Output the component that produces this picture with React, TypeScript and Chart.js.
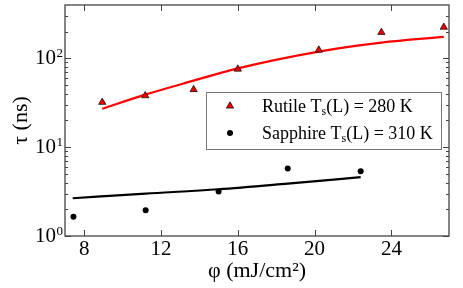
import React, { useEffect, useRef } from "react";
import { Chart, registerables } from "chart.js";

Chart.register(...registerables);

// ---- data ----
const rutileX = [8.94, 11.18, 13.7, 16.0, 20.22, 23.48, 26.73];
const rutileTau = [32, 38, 44.5, 75.7, 124, 196, 224];
const rutileFitX = [8.94, 11.18, 13.7, 16.0, 20.22, 23.48, 26.73];
const rutileFitTau = [27, 39, 56, 77, 119, 150, 174];
const sapphireX = [7.44, 11.2, 15.0, 18.6, 22.4];
const sapphireTau = [1.65, 1.95, 3.16, 5.74, 5.36];
const sapphireFitX = [7.4, 11.2, 15.0, 18.6, 22.4];
const sapphireFitTau = [2.66, 3.0, 3.36, 3.89, 4.59];
const xTicks = [8, 12, 16, 20, 24];
const yTicks = [1, 10, 100];
const yTickBase = "10";
const yTickExponents = ["0", "1", "2"];
const minorMultipliers = [2, 3, 4, 5, 6, 7, 8, 9];
const xRange = [7, 27];
const yRange = [1, 398];
const legendNames = ["Rutile", "Sapphire"];
const legendTemps = ["280 K", "310 K"];

const SERIF = "'Liberation Serif'";
const RED = "#ee0000";
const TICK_SIZE = 21;
const Y_TICK_PAD = 9;

const pts = (xs: number[], ys: number[]) => xs.map((x, i) => ({ x, y: ys[i] }));

const axisTicksPlugin = {
  id: "axisTicks",
  afterDatasetsDraw(chart: any) {
    const { ctx, chartArea: a, scales } = chart;
    const xs = scales.x;
    const ys = scales.y;
    ctx.save();
    ctx.strokeStyle = "#444";
    ctx.lineWidth = 1;
    ctx.beginPath();
    xTicks.forEach((v) => {
      const px = Math.round(xs.getPixelForValue(v)) + 0.5;
      ctx.moveTo(px, a.bottom);
      ctx.lineTo(px, a.bottom - 6);
      ctx.moveTo(px, a.top);
      ctx.lineTo(px, a.top + 6);
    });
    yTicks.forEach((d) => {
      [1, ...minorMultipliers].forEach((m) => {
        const v = d * m;
        if (v > ys.max) return;
        const len = m === 1 ? 6 : 3;
        const py = Math.round(ys.getPixelForValue(v)) + 0.5;
        ctx.moveTo(a.left, py);
        ctx.lineTo(a.left + len, py);
        ctx.moveTo(a.right, py);
        ctx.lineTo(a.right - len, py);
      });
    });
    ctx.stroke();
    ctx.lineWidth = 1.3;
    ctx.strokeRect(a.left, a.top, a.right - a.left, a.bottom - a.top);

    // exponents of the y tick labels (10^n)
    ctx.fillStyle = "#000";
    ctx.textAlign = "left";
    ctx.textBaseline = "alphabetic";
    ctx.font = `13px ${SERIF}`;
    yTicks.forEach((v, i) => {
      const py = ys.getPixelForValue(v);
      const ex = ys.right - Y_TICK_PAD + 0.5;
      ctx.fillText(yTickExponents[i], ex, py - 1.5);
    });
    ctx.restore();
  },
};

const legendPlugin = {
  id: "customLegend",
  afterDraw(chart: any) {
    const { ctx, chartArea: a } = chart;
    const bx = a.left + 141;
    const by = a.top + 87;
    const bw = 235;
    const bh = 57;
    ctx.save();
    ctx.fillStyle = "#fff";
    ctx.fillRect(bx, by, bw, bh);
    ctx.strokeStyle = "#777";
    ctx.lineWidth = 1;
    ctx.strokeRect(Math.round(bx) + 0.5, Math.round(by) + 0.5, bw, bh);
    const rows = [by + 14, by + 41];
    const mx = bx + 24;
    // triangle marker
    const r = 4.2;
    const ty = rows[0];
    ctx.beginPath();
    for (let k = 0; k < 3; k++) {
      const ang = (k * 2 * Math.PI) / 3;
      const px = mx + Math.sin(ang) * r;
      const py = ty - Math.cos(ang) * r;
      if (k === 0) ctx.moveTo(px, py);
      else ctx.lineTo(px, py);
    }
    ctx.closePath();
    ctx.fillStyle = RED;
    ctx.fill();
    ctx.strokeStyle = "#000";
    ctx.lineWidth = 0.7;
    ctx.stroke();
    // circle marker
    ctx.beginPath();
    ctx.arc(mx, rows[1], 3, 0, Math.PI * 2);
    ctx.fillStyle = "#000";
    ctx.fill();
    // texts
    ctx.fillStyle = "#000";
    ctx.textAlign = "left";
    ctx.textBaseline = "alphabetic";
    legendNames.forEach((name, i) => {
      let x = bx + 56;
      const y = rows[i] + 6;
      ctx.font = `18px ${SERIF}`;
      const first = `${name} T`;
      ctx.fillText(first, x, y);
      x += ctx.measureText(first).width;
      ctx.font = `12px ${SERIF}`;
      ctx.fillText("s", x, y + 3);
      x += ctx.measureText("s").width;
      ctx.font = `18px ${SERIF}`;
      ctx.fillText(`(L) = ${legendTemps[i]}`, x, y);
    });
    ctx.restore();
  },
};

export default function App() {
  const ref = useRef<HTMLCanvasElement>(null);
  useEffect(() => {
    const chart = new Chart(ref.current as HTMLCanvasElement, {
      type: "scatter",
      data: {
        datasets: [
          {
            label: "Rutile",
            data: pts(rutileX, rutileTau),
            pointStyle: "triangle",
            pointRadius: 4.2,
            backgroundColor: RED,
            borderColor: "#000",
            borderWidth: 0.7,
            order: 1,
          },
          {
            label: "Sapphire",
            data: pts(sapphireX, sapphireTau),
            pointStyle: "circle",
            pointRadius: 3,
            backgroundColor: "#000",
            borderColor: "#000",
            borderWidth: 0,
            order: 1,
          },
          {
            label: "Rutile fit",
            data: pts(rutileFitX, rutileFitTau),
            showLine: true,
            pointRadius: 0,
            borderColor: "#ff0000",
            borderWidth: 2.2,
            cubicInterpolationMode: "monotone",
            order: 2,
          },
          {
            label: "Sapphire fit",
            data: pts(sapphireFitX, sapphireFitTau),
            showLine: true,
            pointRadius: 0,
            borderColor: "#000",
            borderWidth: 2.2,
            cubicInterpolationMode: "monotone",
            order: 2,
          },
        ],
      } as any,
      options: {
        responsive: false,
        animation: false,
        layout: { padding: { top: 5, right: 14, bottom: 0, left: 0 } },
        plugins: { legend: { display: false }, tooltip: { enabled: false } },
        scales: {
          x: {
            type: "linear",
            min: xRange[0],
            max: xRange[1],
            afterBuildTicks: (s: any) => {
              s.ticks = xTicks.map((v) => ({ value: v }));
            },
            afterFit: (s: any) => {
              s.height = 52;
              s.paddingLeft = 0;
              s.paddingRight = 0;
            },
            ticks: {
              font: { family: SERIF, size: TICK_SIZE },
              color: "#000",
              padding: 1,
              callback: (v: any) => String(v),
            },
            grid: { display: false, drawTicks: false },
            border: { display: false },
            title: {
              display: true,
              text: "φ (mJ/cm²)",
              font: { family: SERIF, size: 22, lineHeight: 1.2 },
              color: "#000",
              padding: { top: 0, bottom: 4 },
            },
          },
          y: {
            type: "logarithmic",
            min: yRange[0],
            max: yRange[1],
            afterBuildTicks: (s: any) => {
              s.ticks = yTicks.map((v) => ({ value: v, major: true }));
            },
            afterFit: (s: any) => {
              s.width = 65;
              s.paddingTop = 0;
              s.paddingBottom = 0;
            },
            ticks: {
              font: { family: SERIF, size: TICK_SIZE },
              color: "#000",
              padding: Y_TICK_PAD,
              callback: () => yTickBase,
            },
            grid: { display: false, drawTicks: false },
            border: { display: false },
            title: {
              display: true,
              text: "τ (ns)",
              font: { family: SERIF, size: 22, lineHeight: 1.2 },
              color: "#000",
              padding: { top: 8, bottom: 0 },
            },
          },
        },
      } as any,
      plugins: [axisTicksPlugin, legendPlugin],
    });
    return () => chart.destroy();
  }, []);
  return (
    <div style={{ position: "fixed", left: 0, top: 0, width: 463, height: 288, background: "#fff" }}>
      <canvas ref={ref} width={463} height={288} />
    </div>
  );
}
